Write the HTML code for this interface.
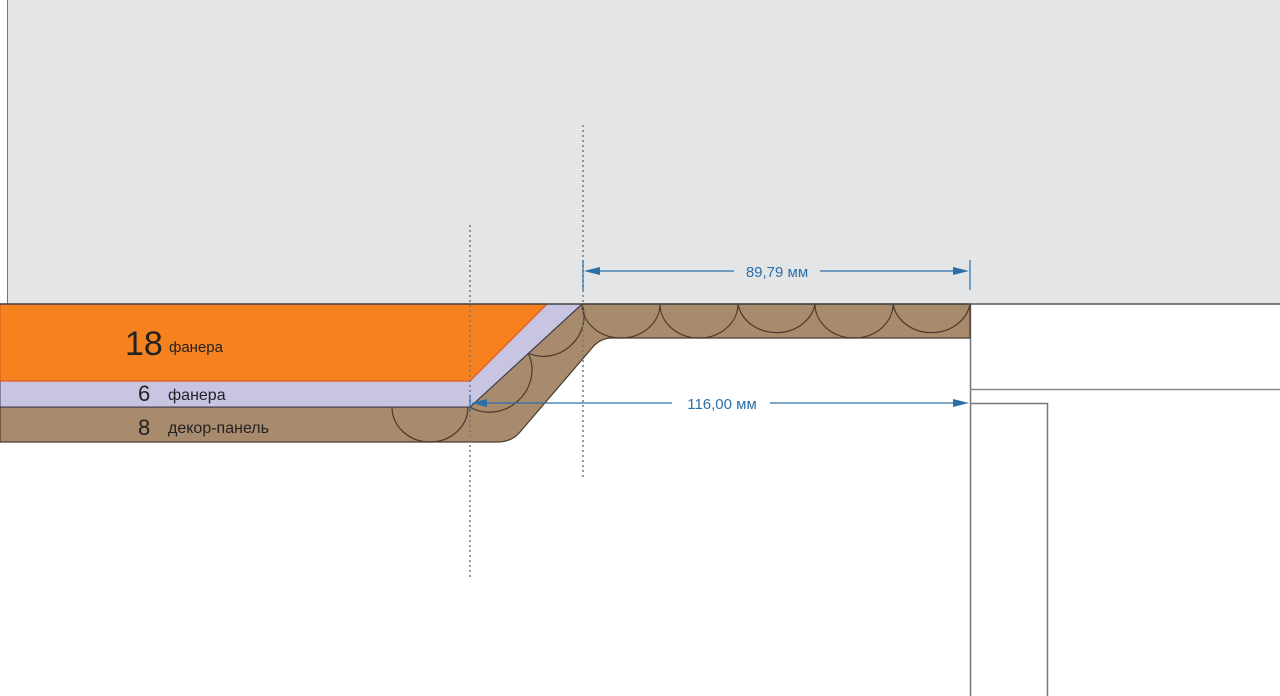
<!DOCTYPE html>
<html><head><meta charset="utf-8"><style>
html,body{margin:0;padding:0;background:#fff;}
svg{display:block;}
text{font-family:"Liberation Sans",sans-serif;}
</style></head><body>
<svg width="1280" height="696" viewBox="0 0 1280 696" xmlns="http://www.w3.org/2000/svg">
<rect x="7" y="0" width="1273" height="304" fill="#e4e5e7"/>
<line x1="7.5" y1="0" x2="7.5" y2="304" stroke="#777" stroke-width="1"/>
<path d="M970.5 304 V696" stroke="#777" fill="none" stroke-width="1.5"/>
<path d="M970 389.5 H1280" stroke="#888" fill="none" stroke-width="1.5"/>
<path d="M970 403.5 H1047.5 V696" stroke="#777" fill="none" stroke-width="1.5"/>
<path d="M0 407 H470 L582 304 H970 V338 H612 Q600 338 592 348 L520 432 Q512 442 497 442 H0 Z" fill="#a88a6c" stroke="#4a3a2c" stroke-width="1.2"/>
<g fill="none" stroke="#4a3a2c" stroke-width="1.2">
<path d="M582 304 A39 34 0 0 0 660 304"/>
<path d="M660 304 A39 34 0 0 0 738 304"/>
<path d="M738 304 A39 34 0 0 0 815 304"/>
<path d="M815 304 A39 34 0 0 0 893 304"/>
<path d="M893 304 A39 34 0 0 0 970 304"/>
<path d="M392 407 A38 35 0 0 0 468 407"/>
<path d="M470 407 A41 38 -42 0 0 528 353"/>
<path d="M528 353 A39 36 -42 0 0 582 304"/>
</g>
<path d="M0 381 H470 L547 304 H582 L470 407 H0 Z" fill="#c8c5e3" stroke="#3a3a4a" stroke-width="1"/>
<path d="M0 304 H547 L470 381 H0 Z" fill="#f5821f" stroke="#e05a20" stroke-width="1.2"/>
<line x1="0" y1="304" x2="970" y2="304" stroke="#444" stroke-width="1.5"/>
<line x1="970" y1="304" x2="1280" y2="304" stroke="#555" stroke-width="1.5"/>
<line x1="470" y1="225" x2="470" y2="578" stroke="#777" stroke-width="1.5" stroke-dasharray="2,3"/>
<line x1="583" y1="125" x2="583" y2="478" stroke="#777" stroke-width="1.5" stroke-dasharray="2,3"/>
<g stroke="#2a6fa8" stroke-width="1.2" fill="#2a6fa8">
<line x1="583" y1="260" x2="583" y2="290"/>
<line x1="970" y1="260" x2="970" y2="290"/>
<line x1="600" y1="271" x2="734" y2="271"/>
<line x1="820" y1="271" x2="955" y2="271"/>
<path d="M584 271 L600 267 L600 275 Z" stroke="none"/>
<path d="M969 271 L953 267 L953 275 Z" stroke="none"/>
<line x1="470" y1="395" x2="470" y2="412"/>
<line x1="486" y1="403" x2="672" y2="403"/>
<line x1="770" y1="403" x2="955" y2="403"/>
<path d="M471 403 L487 399 L487 407 Z" stroke="none"/>
<path d="M969 403 L953 399 L953 407 Z" stroke="none"/>
</g>
<text x="777" y="277" font-size="15" fill="#2a6fa8" text-anchor="middle">89,79 мм</text>
<text x="722" y="409" font-size="15" fill="#2a6fa8" text-anchor="middle">116,00 мм</text>
<text x="125" y="355" font-size="34" fill="#222">18</text>
<text x="169" y="352" font-size="15" fill="#222">фанера</text>
<text x="138" y="401" font-size="22" fill="#222">6</text>
<text x="168" y="400" font-size="16" fill="#222">фанера</text>
<text x="138" y="435" font-size="22" fill="#222">8</text>
<text x="168" y="433" font-size="16" fill="#222">декор-панель</text>
</svg>
</body></html>
